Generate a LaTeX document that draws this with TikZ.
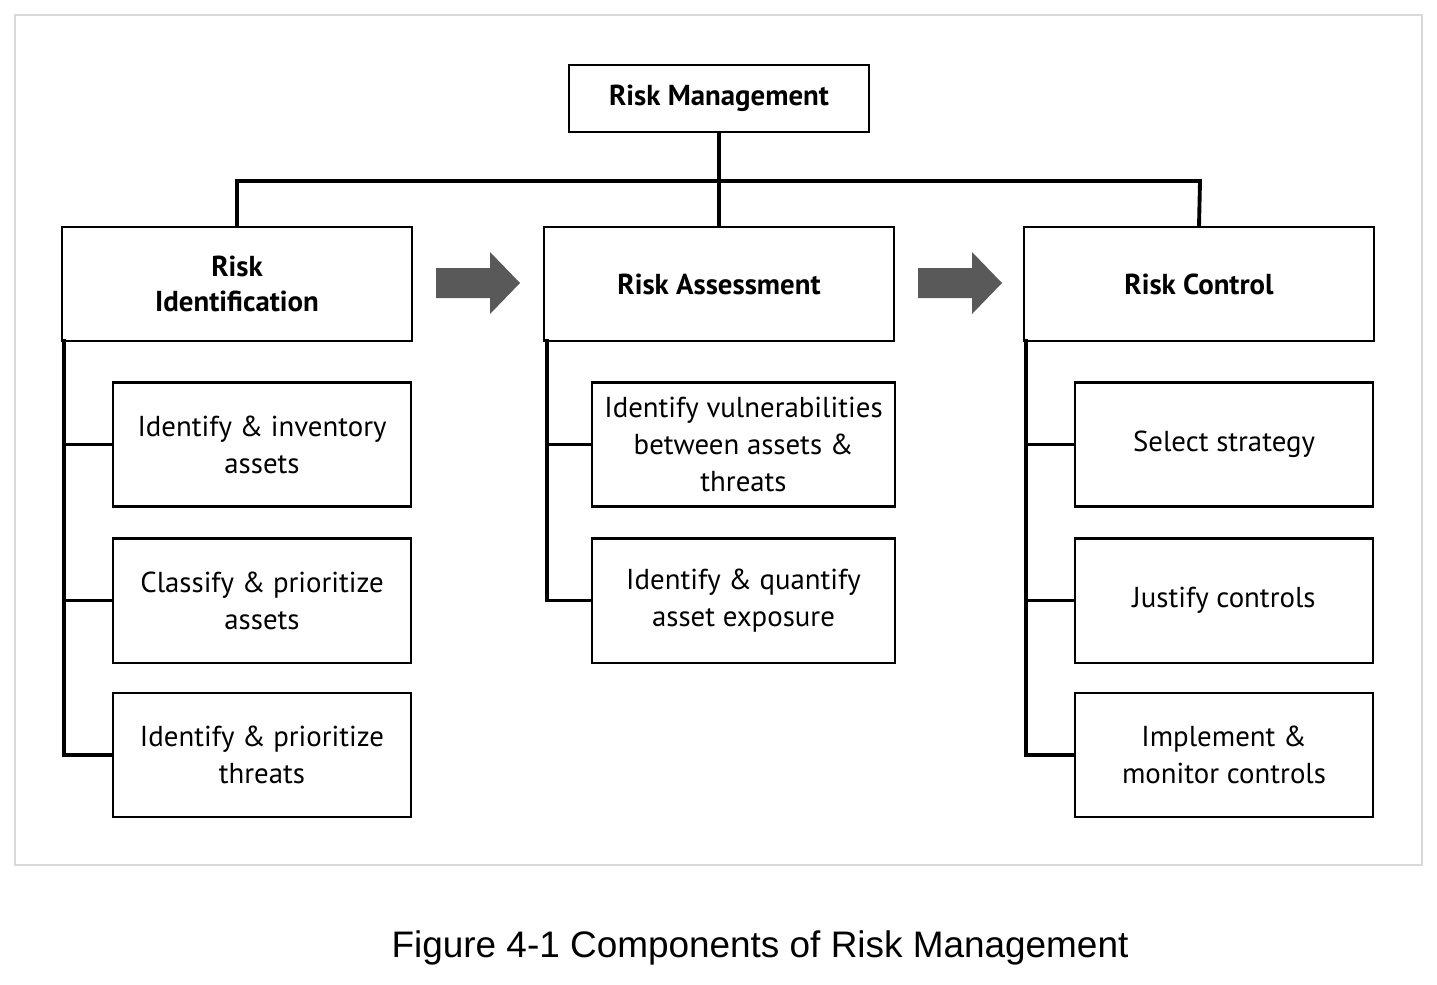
\documentclass[tikz,border=0pt]{standalone}
\usepackage{fontspec}
\setmainfont{PT Sans}
\newfontfamily\capfont{Liberation Sans}
\begin{document}
\begin{tikzpicture}[x=0.01cm,y=-0.01cm,
  bx/.style={draw=black,line width=0.6pt,inner sep=0pt,font=\fontsize{8.2}{10.5}\selectfont,align=center},
  hd/.style={bx,font=\fontsize{8.2}{10}\selectfont\bfseries},
  ln/.style={line width=1.1pt,line cap=rect},
  blk/.style={fill=black!65,draw=none}]
\useasboundingbox (0,0) rectangle (1437,984);
\draw[black!15,line width=0.5pt] (15,15) rectangle (1422,865);
\node[hd,minimum width=3cm,minimum height=0.67cm] (rm) at (719,98.5) {Risk Management};
\node[hd,minimum width=3.5cm,minimum height=1.14cm] (ri) at (237,284) {Risk\\Identification};
\node[hd,minimum width=3.5cm,minimum height=1.14cm] (ra) at (719,284) {Risk Assessment};
\node[hd,minimum width=3.5cm,minimum height=1.14cm] (rc) at (1199,284) {Risk Control};
\foreach \n/\x/\y/\w/\t in {l1/262/444.5/2.98/{Identify \& inventory\\assets},l2/262/600.5/2.98/{Classify \& prioritize\\assets},l3/262/755/2.98/{Identify \& prioritize\\threats},
  m1/743.5/444.5/3.02/{Identify vulnerabilities\\between assets \&\\threats},m2/743.5/600.5/3.02/{Identify \& quantify\\asset exposure},
  r1/1224/444.5/2.98/{Select strategy},r2/1224/600.5/2.98/{Justify controls},r3/1224/755/2.98/{Implement \&\\monitor controls}}
  \node[bx,minimum width=\w cm,minimum height=1.24cm] (\n) at (\x,\y) {\t};
\coordinate (bl) at (237,181); \coordinate (br) at (1200,181); \coordinate (bm) at (719,181);
\draw[ln] (rm.south) -- (bm);
\draw[ln] (ri.north) -- (bl) -- (br) -- (rc.north);
\draw[ln] (bm) -- (ra.north);
\draw[ln] (64,341) -- (64,755) -- (l3.west);
\draw[ln] (64,444.5) -- (l1.west); \draw[ln] (64,600.5) -- (l2.west);
\draw[ln] (547,341) -- (547,600.5) -- (m2.west); \draw[ln] (547,444.5) -- (m1.west);
\draw[ln] (1026,341) -- (1026,755) -- (r3.west);
\draw[ln] (1026,444.5) -- (r1.west); \draw[ln] (1026,600.5) -- (r2.west);
\foreach \a/\s in {a1/436,a2/918}
  \fill[blk] (\s,268) -- ++(54,0) -- ++(0,-16) -- ++(30,31) -- ++(-30,31) -- ++(0,-16) -- ++(-54,0) -- cycle;
\node[font=\capfont\fontsize{10.5}{12}\selectfont] (cap) at (760,948) {Figure 4-1 Components of Risk Management};
\end{tikzpicture}
\end{document}
